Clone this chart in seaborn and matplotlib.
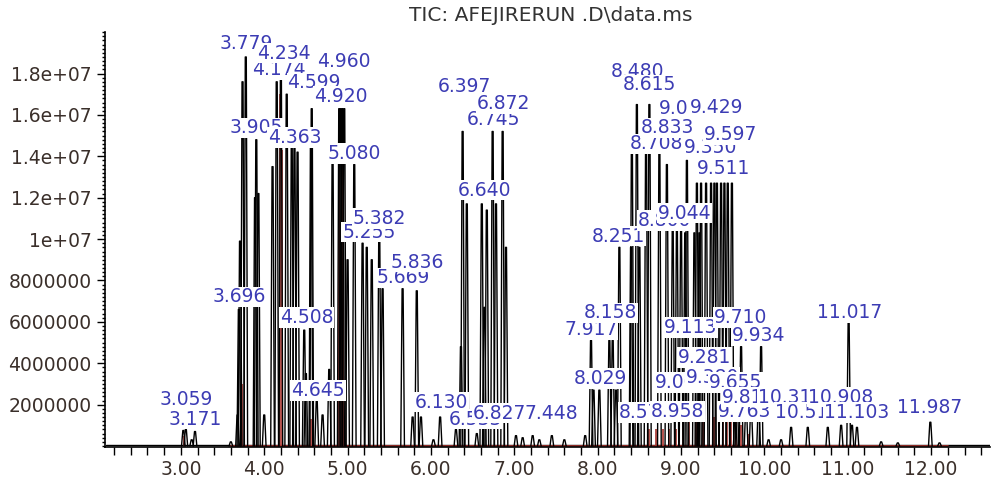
import seaborn as sns
from matplotlib import pyplot as plt
import matplotlib.ticker as ticker
import pandas as pd

sns.set_theme(style='white')
plt.rcParams['font.family'] = ['DejaVu Sans']

# peak apex retention times (min) and abundances
peak_rt = [3.03, 3.06, 3.13, 3.17, 3.60, 3.68, 3.696, 3.71, 3.74, 3.779, 3.89, 3.905, 3.93, 4.00,
           4.10, 4.15, 4.20, 4.27, 4.33, 4.363, 4.40, 4.48, 4.50, 4.56, 4.57, 4.63, 4.70, 4.78,
           4.82, 4.90, 4.92, 4.94, 4.96, 5.00, 5.08, 5.18, 5.23, 5.29, 5.38, 5.42, 5.66, 5.78,
           5.83, 5.88, 6.03, 6.11, 6.30, 6.36, 6.38, 6.43, 6.55, 6.61, 6.64, 6.67, 6.74, 6.78,
           6.86, 6.90, 7.02, 7.10, 7.22, 7.30, 7.45, 7.60, 7.85, 7.92, 7.95, 8.02, 8.14, 8.18,
           8.22, 8.26, 8.40, 8.41, 8.47, 8.50, 8.58, 8.62, 8.74, 8.83, 8.90, 8.95, 9.00, 9.05,
           9.07, 9.16, 9.19, 9.22, 9.24, 9.30, 9.36, 9.40, 9.43, 9.48, 9.52, 9.56, 9.61, 9.65,
           9.67, 9.72, 9.78, 9.84, 9.93, 9.96, 10.05, 10.20, 10.32, 10.52, 10.76, 10.92, 11.01,
           11.05, 11.11, 11.40, 11.60, 11.99, 12.10]
peak_abund = [0.75, 0.8, 0.3, 0.7, 0.2, 1.5, 6.6, 9.9, 17.6, 18.8, 12.0, 14.8, 12.2, 1.5,
              13.5, 17.6, 18.0, 17.0, 14.4, 14.4, 14.2, 5.6, 3.5, 14.5, 16.3, 2.2, 1.5, 3.7,
              14.0, 16.3, 16.3, 16.3, 16.3, 9.0, 13.6, 9.8, 9.6, 9.0, 10.3, 7.6, 7.6, 1.4,
              7.5, 1.4, 0.3, 1.4, 0.8, 4.8, 15.2, 11.7, 0.6, 11.7, 6.7, 11.4, 15.2, 11.7,
              15.2, 9.6, 0.5, 0.4, 0.5, 0.3, 0.5, 0.3, 0.5, 5.1, 2.7, 2.7, 5.1, 5.1,
              2.7, 9.6, 9.6, 14.6, 16.5, 9.6, 14.4, 16.5, 14.3, 13.6, 10.4, 10.4, 10.4, 10.3,
              13.8, 10.3, 12.7, 10.3, 12.7, 12.7, 12.7, 12.7, 12.7, 12.7, 12.7, 12.7, 12.7, 1.5,
              2.3, 4.8, 1.8, 1.8, 1.8, 4.8, 0.3, 0.3, 0.9, 0.9, 0.9, 1.0, 6.0,
              1.0, 0.9, 0.2, 0.15, 1.15, 0.15]

# red integration markers
mark_rt = [3.04, 3.73, 4.19, 4.21, 4.56, 4.90, 4.93, 4.95, 8.62, 8.70, 8.78, 8.86, 8.94, 9.02,
           9.10, 9.18, 9.26, 9.40, 9.45, 9.50, 9.55, 9.60, 9.66, 9.72, 9.80]
mark_abund = [0.5, 3.0, 17.0, 14.3, 1.3, 16.3, 16.3, 9.1, 0.8, 0.8, 0.8, 0.8, 0.8, 1.3,
              1.3, 1.3, 1.3, 1.4, 1.4, 1.4, 1.4, 1.4, 1.4, 1.0, 0.6]

# peak labels (retention time, label height)
label_rt = [3.059, 3.171, 3.696, 3.779, 3.905, 4.174, 4.234, 4.363, 4.508, 4.599, 4.645, 4.920,
            4.960, 5.080, 5.255, 5.382, 5.669, 5.836, 6.130, 6.397, 6.533, 6.640, 6.745, 6.827,
            6.872, 7.448, 7.917, 8.029, 8.158, 8.251, 8.480, 8.570, 8.615, 8.708, 8.800, 8.833,
            8.958, 9.003, 9.044, 9.052, 9.113, 9.281, 9.350, 9.380, 9.429, 9.511, 9.597, 9.655,
            9.710, 9.763, 9.810, 9.934, 10.311, 10.513, 10.908, 11.017, 11.103, 11.987]
label_y = [2.26, 1.30, 7.21, 19.47, 15.38, 18.2, 18.99, 14.9, 6.2, 17.55, 2.69, 16.88,
           18.56, 14.13, 10.34, 11.0, 8.13, 8.89, 2.12, 17.36, 1.30, 12.36, 15.77, 1.59,
           16.54, 1.59, 5.63, 3.27, 6.44, 10.14, 18.1, 1.63, 17.45, 14.6, 10.9, 15.38,
           1.68, 3.08, 11.25, 16.3, 5.72, 4.28, 14.42, 3.3, 16.35, 13.41, 15.05, 3.08,
           6.2, 1.68, 2.36, 5.34, 2.36, 1.63, 2.36, 6.44, 1.63, 1.88]

# build each peak as a narrow spike so seaborn can draw it as a line
rows = []
for i, (rt, h) in enumerate(zip(peak_rt, peak_abund)):
    for dx, f in [(-0.022, 0.0), (-0.006, 1.0), (0.006, 1.0), (0.022, 0.0)]:
        rows.append({'peak': i, 'rt': rt + dx, 'abund': h * f * 1e6})
df = pd.DataFrame(rows)
base = pd.DataFrame({'rt': [2.1, 12.75], 'abund': [0.05e6, 0.05e6]})

fig = plt.figure(figsize=(9.95, 4.87), dpi=100)
ax = fig.add_axes([0.1055, 0.082, 0.889, 0.852])

sns.lineplot(data=base, x='rt', y='abund', color='black', lw=1.0, ax=ax)
ax.vlines(mark_rt, 0, [m * 1e6 for m in mark_abund], color='#a8322c', lw=1.2, zorder=2)
ax.plot([3.6, 12.2], [0.02e6, 0.02e6], color='#a8322c', lw=1.2, zorder=2)
sns.lineplot(data=df, x='rt', y='abund', units='peak', estimator=None, sort=False,
             color='black', lw=1.0, ax=ax, zorder=3)

for rt, y in zip(label_rt, label_y):
    ax.text(rt, y * 1e6, f'{rt:.3f}', ha='center', va='center', fontsize=13.5,
            color='#3c3cb4', zorder=5,
            bbox=dict(facecolor='white', edgecolor='none', pad=0.6))

ax.set_xlim(2.09, 12.7)
ax.set_ylim(-0.05e6, 2.0e7)
ax.set_xlabel('')
ax.set_ylabel('')

ax.xaxis.set_major_locator(ticker.MultipleLocator(1))
ax.xaxis.set_minor_locator(ticker.MultipleLocator(0.2))
ax.xaxis.set_major_formatter(ticker.FormatStrFormatter('%.2f'))
ax.set_yticks([2e6, 4e6, 6e6, 8e6, 1e7, 1.2e7, 1.4e7, 1.6e7, 1.8e7])
ax.set_yticklabels(['2000000', '4000000', '6000000', '8000000', '1e+07', '1.2e+07',
                    '1.4e+07', '1.6e+07', '1.8e+07'])
ax.yaxis.set_minor_locator(ticker.MultipleLocator(2e5))
ax.tick_params(axis='both', which='major', direction='out', length=6, width=1,
               color='black', labelsize=13.5, labelcolor='#3a2f2a')
ax.tick_params(axis='x', which='minor', direction='out', length=6, width=1, color='black')
ax.tick_params(axis='y', which='minor', direction='out', length=2, width=1, color='black')
ax.tick_params(left=True, bottom=True, which='both')

for s in ['top', 'right']:
    ax.spines[s].set_visible(False)
for s in ['left', 'bottom']:
    ax.spines[s].set_color('black')
    ax.spines[s].set_linewidth(1.2)

fig.text(0.554, 0.968, 'TIC: AFEJIRERUN .D\\data.ms', ha='center', va='center',
         fontsize=14.5, color='#333333')

plt.savefig('out.png', dpi=100)
